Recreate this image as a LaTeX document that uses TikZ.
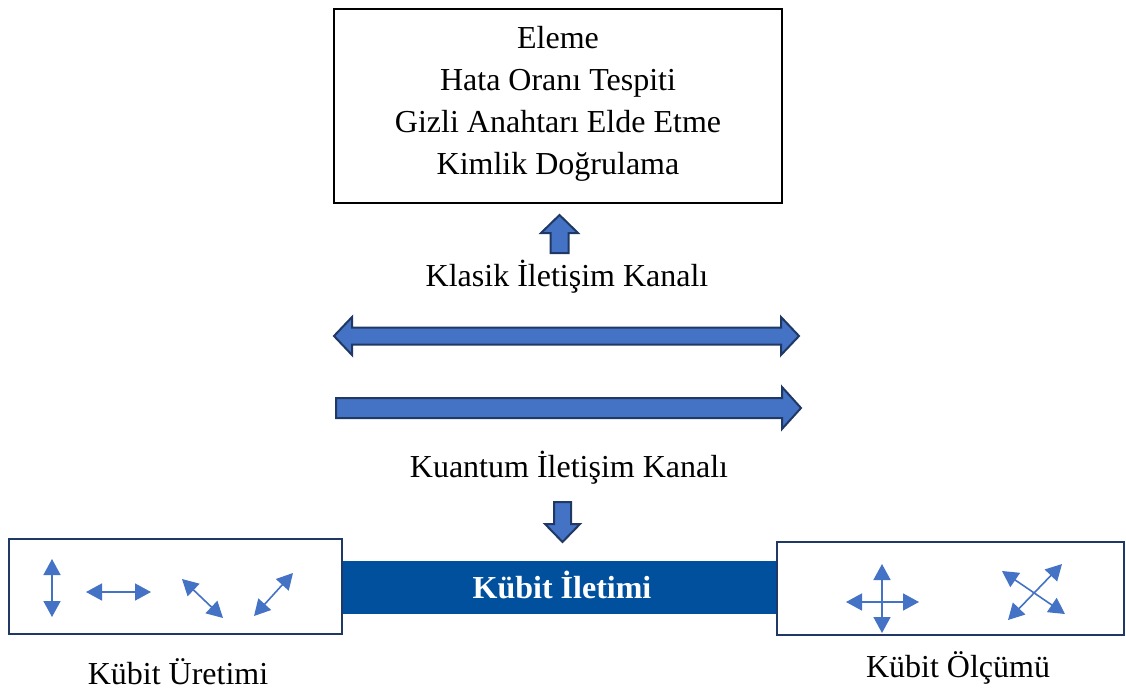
\documentclass[tikz,border=0pt]{standalone}
\usepackage{fontspec}
\setmainfont{Liberation Serif}
\usetikzlibrary{arrows.meta}
\definecolor{arrowblue}{RGB}{68,114,196}
\definecolor{navy}{RGB}{32,56,100}
\definecolor{barblue}{RGB}{0,80,158}
\tikzset{
  lbl/.style={font=\fontsize{32}{42}\selectfont, align=center, inner sep=0pt, anchor=base},
  bigarrow/.style={fill=arrowblue, draw=navy, line width=2pt, line join=miter},
  frame/.style={draw=navy, line width=2.5pt, fill=white},
  icon/.style={draw=arrowblue, line width=1.6pt,
    arrows={Triangle[length=16pt,width=17pt]-Triangle[length=16pt,width=17pt]}},
}
\begin{document}
\begin{tikzpicture}[x=1pt,y=-1pt]
\useasboundingbox (0,0) rectangle (1126,688);

% processing steps on the classical side
\node[draw=black, line width=1.2pt, minimum width=448pt, minimum height=194pt, inner sep=0pt]
  (steps) at (558,106) {};
\node[lbl] (s1) at (558,48) {Eleme};
\node[lbl] (s2) at (558,90) {Hata Oranı Tespiti};
\node[lbl] (s3) at (558,132) {Gizli Anahtarı Elde Etme};
\node[lbl] (s4) at (558,174) {Kimlik Doğrulama};

% up arrow into the steps box
\draw[bigarrow] (550.5,253) -- (550.5,233) -- (541,233) -- (559.5,215) -- (578,233) -- (568.5,233) -- (568.5,253) -- cycle;

\node[lbl] (classic) at (567,286) {Klasik İletişim Kanalı};

% classical channel: two-way
\draw[bigarrow] (334,336) -- (352,317) -- (352,327.5) -- (781,327.5) -- (781,317) -- (799,336)
  -- (781,355) -- (781,344.5) -- (352,344.5) -- (352,355) -- cycle;

% quantum channel: one-way
\draw[bigarrow] (336,398) -- (782,398) -- (782,387) -- (801,408) -- (782,429) -- (782,418) -- (336,418) -- cycle;

\node[lbl] (quantum) at (569,477) {Kuantum İletişim Kanalı};

% down arrow towards qubit transmission
\draw[bigarrow] (554,502) -- (571,502) -- (571,524) -- (580,524) -- (562.5,542) -- (545,524) -- (554,524) -- cycle;

% qubit transmission bar
\node[fill=barblue, minimum width=440pt, minimum height=53pt, inner sep=0pt] (bar) at (561,587) {};
\node[lbl, text=white, font=\fontsize{32}{42}\selectfont\bfseries] (bartext) at (562,598) {Kübit İletimi};

% qubit generation box
\node[frame, minimum width=333pt, minimum height=95pt, inner sep=0pt] (gen) at (175.5,586.5) {};
\draw[icon] (52,617) -- (52,559);
\draw[icon] (86,592) -- (151,592);
\draw[icon] (182,579) -- (223,618);
\draw[icon] (254,616) -- (293,573);
\node[lbl] (genlbl) at (178,684) {Kübit Üretimi};

% qubit measurement box
\node[frame, minimum width=347pt, minimum height=93pt, inner sep=0pt] (meas) at (950.5,588.5) {};
\draw[icon] (882,633) -- (882,564);
\draw[icon] (846,602) -- (919,602);
\draw[icon] (1002,571) -- (1065,614);
\draw[icon] (1008,620) -- (1062,564);
\node[lbl] (measlbl) at (958,677) {Kübit Ölçümü};
\end{tikzpicture}
\end{document}
